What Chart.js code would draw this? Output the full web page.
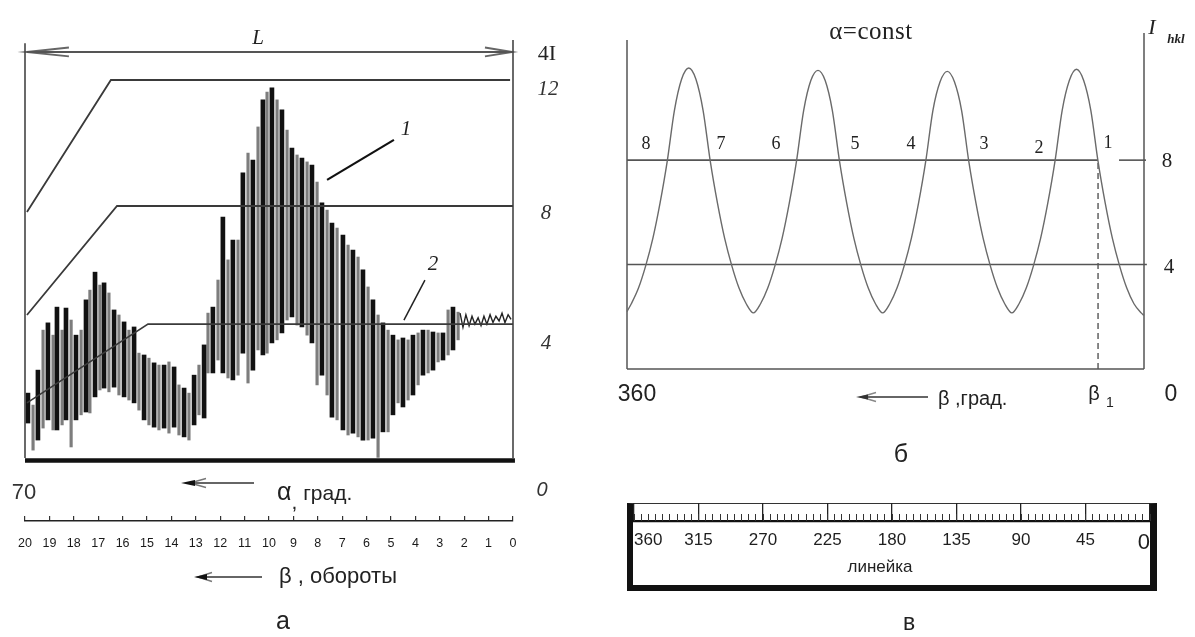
<!DOCTYPE html>
<html><head><meta charset="utf-8">
<script src="https://cdn.jsdelivr.net/npm/chart.js@4.4.1/dist/chart.umd.min.js"></script>
<style>
html,body{margin:0;padding:0;background:#fff;width:1195px;height:637px;overflow:hidden;position:relative;}
canvas{position:absolute;}
.t{position:absolute;white-space:nowrap;transform:translate(-50%,-50%);color:#222;line-height:1;}
.l{position:absolute;white-space:nowrap;transform:translate(0,-50%);color:#222;line-height:1;}
.serif{font-family:'Liberation Serif','DejaVu Serif',serif;}
.sans{font-family:'Liberation Sans',Arial,sans-serif;}
.it{font-style:italic;}
#ruler{position:absolute;left:627px;top:503px;width:530px;height:88px;box-sizing:border-box;border-top:1.5px solid #333;border-left:6px solid #111;border-right:7px solid #111;border-bottom:6px solid #111;}
svg{position:absolute;left:0;top:0;}
</style></head><body>
<div id="ruler"></div>
<canvas id="ca" width="600" height="470" style="left:0;top:0;"></canvas>
<canvas id="cb" width="600" height="60" style="left:0;top:500px;"></canvas>
<canvas id="cc" width="595" height="400" style="left:600px;top:0;"></canvas>
<canvas id="cd" width="595" height="90" style="left:600px;top:490px;"></canvas>
<canvas id="ce" width="595" height="30" style="left:600px;top:500px;"></canvas>

<svg width="1195" height="637">
  <g stroke="#333" fill="none">
    <line x1="254" y1="483" x2="186" y2="483" stroke-width="1.5"/>
    <polyline points="206,478.5 190,483 206,487.5" stroke="#777" stroke-width="1.5"/>
    <polygon points="181,483 195,480 195,486" fill="#111" stroke="none"/>
    <line x1="262" y1="577" x2="199" y2="577" stroke-width="1.5"/>
    <polyline points="212,572.5 198,577 212,581.5" stroke="#777" stroke-width="1.5"/>
    <polygon points="194,577 207,574 207,580" fill="#111" stroke="none"/>
    <line x1="928" y1="397" x2="861" y2="397" stroke-width="1.5"/>
    <polyline points="876,392.5 861,397 876,401.5" stroke="#888" stroke-width="1.5"/>
    <polygon points="856,397 868,394.5 868,399.5" fill="#333" stroke="none"/>
  </g>
</svg>

<!-- panel a texts -->
<div class="t serif it" style="left:258px;top:37px;font-size:21px;">L</div>
<div class="t serif" style="left:547px;top:53px;font-size:22px;">4I</div>
<div class="t serif it" style="left:548px;top:88px;font-size:21px;color:#333;">12</div>
<div class="t serif it" style="left:546px;top:212px;font-size:21px;color:#333;">8</div>
<div class="t serif it" style="left:546px;top:342px;font-size:21px;color:#333;">4</div>
<div class="t sans it" style="left:542px;top:489px;font-size:20px;color:#333;">0</div>
<div class="t serif it" style="left:406px;top:128px;font-size:21px;">1</div>
<div class="t serif it" style="left:433px;top:263px;font-size:21px;">2</div>
<div class="t sans" style="left:24px;top:492px;font-size:22px;color:#333;">70</div>
<div class="l sans" style="left:277px;top:491px;font-size:21px;color:#222;"><span style="font-size:25px;">α</span><span style="position:relative;top:9px;">,</span> град.</div>
<div class="l sans" style="left:279px;top:576px;font-size:22px;color:#222;">β , обороты</div>
<div class="t sans" style="left:283px;top:620px;font-size:25px;">а</div>

<!-- panel b texts -->
<div class="t serif" style="left:871px;top:30px;font-size:25px;letter-spacing:0.5px;">α=const</div>
<div class="t serif it" style="left:1152px;top:27px;font-size:22px;">I</div>
<div class="t serif it" style="left:1176px;top:38px;font-size:13px;font-weight:bold;">hkl</div>
<div class="t serif" style="left:646px;top:143px;font-size:18px;">8</div>
<div class="t serif" style="left:721px;top:143px;font-size:18px;">7</div>
<div class="t serif" style="left:776px;top:143px;font-size:18px;">6</div>
<div class="t serif" style="left:855px;top:143px;font-size:18px;">5</div>
<div class="t serif" style="left:911px;top:143px;font-size:18px;">4</div>
<div class="t serif" style="left:984px;top:143px;font-size:18px;">3</div>
<div class="t serif" style="left:1039px;top:147px;font-size:18px;">2</div>
<div class="t serif" style="left:1108px;top:142px;font-size:18px;">1</div>
<div class="t serif" style="left:1167px;top:160px;font-size:21px;">8</div>
<div class="t serif" style="left:1169px;top:266px;font-size:21px;">4</div>
<div class="t sans" style="left:637px;top:393px;font-size:23px;">360</div>
<div class="l sans" style="left:938px;top:398px;font-size:20px;">β ,град.</div>
<div class="t sans" style="left:1094px;top:393px;font-size:20px;">β</div>
<div class="t sans" style="left:1110px;top:402px;font-size:14px;">1</div>
<div class="t sans" style="left:1171px;top:393px;font-size:23px;">0</div>
<div class="t sans" style="left:901px;top:453px;font-size:25px;">б</div>
<div class="t sans" style="left:880px;top:566px;font-size:17px;">линейка</div>
<div class="t sans" style="left:909px;top:622px;font-size:23px;">в</div>

<script>
// ---------- panel a data (beta in turns, intensity in relative units) ----------
const betaBlack = [19.88,19.47,19.06,18.69,18.32,17.91,17.50,17.13,16.76,16.35,
15.94,15.53,15.12,14.71,14.30,13.89,13.48,13.07,12.66,12.30,
11.89,11.48,11.07,10.66,10.25,9.88,9.47,9.06,8.65,8.24,
7.83,7.42,6.97,6.56,6.15,5.74,5.33,4.92,4.51,4.10,
3.69,3.28,2.87,2.46];
const blackHigh = [2.06,2.79,4.29,4.79,4.76,3.90,5.02,5.90,5.56,4.70,
4.32,4.16,3.27,3.02,2.95,2.89,2.22,2.63,3.59,4.79,
7.65,6.92,9.05,9.46,11.37,11.75,11.05,9.84,9.52,9.30,
8.10,7.46,7.08,6.60,5.97,5.02,4.29,3.90,3.81,3.90,
4.06,4.00,3.97,4.79];
const blackLow = [1.11,0.57,1.21,0.89,1.21,1.21,1.46,1.94,2.22,2.25,
1.94,1.75,1.21,0.98,0.95,0.98,0.67,1.05,1.27,2.70,
2.70,2.48,3.33,2.79,3.27,3.65,3.97,4.48,4.16,3.65,
2.63,1.30,0.89,0.79,0.57,0.63,0.83,1.37,1.62,2.00,
2.63,2.79,3.11,3.43];
const betaGray = [19.67,19.26,18.85,18.48,18.11,17.70,17.34,16.93,16.56,16.15,
15.74,15.33,14.92,14.51,14.10,13.69,13.28,12.87,12.50,12.09,
11.68,11.27,10.86,10.45,10.08,9.67,9.26,8.85,8.44,8.03,
7.62,7.21,6.76,6.35,5.94,5.53,5.12,4.71,4.30,3.89,
3.48,3.07,2.66,2.25];
const grayHigh = [1.68,4.06,3.90,4.06,4.38,4.06,5.33,5.49,5.24,4.54,
4.06,3.33,3.17,2.95,3.05,2.32,2.06,2.95,4.60,5.65,
6.29,6.92,9.68,10.51,11.62,11.37,10.41,9.62,9.40,8.76,
7.87,7.30,6.76,6.38,5.43,4.54,4.06,3.75,3.75,3.97,
4.06,3.97,4.70,4.63];
const grayLow = [0.25,0.95,0.89,1.05,0.35,1.37,1.43,2.16,2.10,2.00,
1.84,1.52,1.05,0.89,0.79,0.73,0.57,1.37,2.70,3.11,
2.54,2.63,2.38,3.43,3.33,3.75,4.38,4.22,3.90,2.32,
2.00,1.21,0.73,0.67,0.57,0.02,0.83,1.75,1.84,2.32,
2.70,3.05,3.27,3.75];
const tailBeta = [2.17,2.05,1.93,1.80,1.68,1.56,1.43,1.31,1.19,1.07,0.94,0.82,0.70,0.57,0.45,0.33,0.20,0.08];
const tailI = [4.6,4.15,4.55,4.2,4.5,4.25,4.45,4.2,4.5,4.25,4.55,4.3,4.5,4.35,4.6,4.3,4.55,4.4];
const level12Beta = [19.92,16.48,0.12], level12I = [7.81,12.0,12.0];
const level8Beta = [19.92,16.23,0.0], level8I = [4.54,8.0,8.0];
const level4Beta = [19.92,14.96,0.0], level4I = [1.75,4.25,4.25];
const turnTicks = {min:0, max:20, step:1};

// ---------- panel b data (beta in degrees) ----------
const betaDeg = [0,2,7,12,17,22,27,32,37,42,47,52,57,62,67,72,77,82,87,
92,97,102,107,112,117,122,127,132,137,142,147,152,157,162,167,172,177,
182,187,192,197,202,207,212,217,222,227,232,237,242,247,252,257,262,267,
272,277,282,287,292,297,302,307,312,317,322,327,332,337,342,347,352,357,360];
const intensity = [2.05,
2.15,2.5,3.1,3.95,5.0,6.35,7.95,9.9,11.05,11.48,11.05,9.9,7.95,6.35,5.0,3.95,3.1,2.5,
2.15,2.5,3.1,3.95,5.0,6.35,7.95,9.9,11.0,11.4,11.0,9.9,7.95,6.35,5.0,3.95,3.1,2.5,
2.15,2.5,3.1,3.95,5.0,6.35,7.95,9.9,11.05,11.44,11.05,9.9,7.95,6.35,5.0,3.95,3.1,2.5,
2.15,2.5,3.1,3.95,5.0,6.35,7.95,9.9,11.1,11.53,11.1,9.9,7.95,6.35,5.0,3.95,3.1,2.5,
2.2];
const beta1 = 32;
const levelB8 = 8, levelB4 = 4;
const rulerMajor = 45, rulerMinor = 5, rulerMax = 360;

// ---------- helpers ----------
const pts = (xs, ys) => xs.map((x, i) => ({x, y: ys[i]}));
const bars = (xs, lo, hi) => xs.map((x, i) => ({x, y: [lo[i], hi[i]]}));
const ln = (data, color, w, extra) => Object.assign({type:'line', data, borderColor:color, borderWidth:w, pointRadius:0, fill:false, tension:0, clip:false, order:0}, extra||{});
const base = (pad) => ({responsive:false, animation:false, events:[], devicePixelRatio:1,
  layout:{padding:pad}, plugins:{legend:{display:false}, tooltip:{enabled:false}}});
Chart.defaults.font.family = "'Liberation Sans', Arial, sans-serif";

// ---------- panel a ----------
new Chart(document.getElementById('ca'), {
  type:'bar',
  data:{datasets:[
    ln(pts(level12Beta, level12I), '#3a3a3a', 1.8),
    ln(pts(level8Beta, level8I), '#3a3a3a', 1.8),
    ln(pts(level4Beta, level4I), '#3a3a3a', 1.6),
    ln([{x:20,y:0},{x:20,y:13.17}], '#444', 1.6),
    ln([{x:0,y:0},{x:0,y:13.27}], '#444', 1.6),
    ln([{x:20,y:-0.08},{x:-0.08,y:-0.08}], '#111', 4.5),
    ln([{x:19.92,y:12.89},{x:0.04,y:12.89}], '#555', 2),
    ln([{x:18.2,y:13.03},{x:19.92,y:12.89},{x:18.2,y:12.75}], '#666', 2),
    ln([{x:1.15,y:13.03},{x:0.04,y:12.89},{x:1.15,y:12.75}], '#666', 2),
    ln([{x:4.88,y:10.1},{x:7.62,y:8.83}], '#111', 2.2),
    ln([{x:3.61,y:5.65},{x:4.47,y:4.38}], '#222', 1.5),
    ln(pts(tailBeta, tailI), '#222', 1.4, {order:1}),
    {data:bars(betaBlack, blackLow, blackHigh), backgroundColor:'#111', barThickness:4, grouped:false, order:2},
    {data:bars(betaGray, grayLow, grayHigh), backgroundColor:'#7d7d7d', barThickness:2.5, grouped:false, order:3}
  ]},
  options:Object.assign(base({left:25,right:87,top:40,bottom:12}), {
    scales:{
      x:{type:'linear', min:turnTicks.min, max:turnTicks.max, reverse:true, offset:false, display:false},
      y:{type:'linear', min:0, max:13.27, display:false}
    }})
});

// beta turns axis under panel a
new Chart(document.getElementById('cb'), {
  type:'line', data:{datasets:[]},
  options:Object.assign(base({left:25,right:87,top:16,bottom:0}), {
    scales:{
      x:{type:'linear', min:turnTicks.min, max:turnTicks.max, reverse:true, offset:false,
        grid:{display:true, drawOnChartArea:true, drawTicks:false, color:'#333', lineWidth:1.2},
        border:{display:true, color:'#222', width:1.5},
        ticks:{stepSize:turnTicks.step, autoSkip:false, maxRotation:0, padding:15, color:'#1a1a1a', font:{size:12.5}},
        afterFit:(s)=>{s.height=39;}},
      y:{display:false, min:0, max:1}
    }})
});

// ---------- panel b ----------
new Chart(document.getElementById('cc'), {
  type:'line',
  data:{datasets:[
    ln(pts(betaDeg, intensity), '#6a6a6a', 1.4, {cubicInterpolationMode:'monotone'}),
    ln([{x:360,y:levelB8},{x:beta1,y:levelB8}], '#555', 1.6),
    ln([{x:17.4,y:levelB8},{x:-1.4,y:levelB8}], '#555', 1.6),
    ln([{x:360,y:levelB4},{x:-2,y:levelB4}], '#555', 1.6),
    ln([{x:beta1,y:0},{x:beta1,y:levelB8}], '#555', 1.4, {borderDash:[6,4]}),
    ln([{x:360,y:0},{x:360,y:12.6}], '#555', 1.5),
    ln([{x:0,y:0},{x:0,y:12.87}], '#555', 1.5),
    ln([{x:360,y:0},{x:0,y:0}], '#555', 1.6)
  ]},
  options:Object.assign(base({left:27,right:51,top:33,bottom:31}), {
    scales:{
      x:{type:'linear', min:0, max:360, reverse:true, display:false},
      y:{type:'linear', min:0, max:12.87, display:false}
    }})
});

// ---------- ruler (в): axis runs 360 (left) .. 0 (right) ----------
new Chart(document.getElementById('cd'), {
  type:'line', data:{datasets:[]},
  options:Object.assign(base({left:34,right:45,top:13,bottom:0}), {
    scales:{
      x:{type:'linear', min:-rulerMax, max:0, offset:false,
        grid:{display:true, drawOnChartArea:true, drawTicks:false, color:'#222', lineWidth:1.3},
        border:{display:true, color:'#111', width:2.2},
        ticks:{stepSize:rulerMajor, autoSkip:false, maxRotation:0, padding:9, align:'inner', color:'#1e1e1e',
          callback:(v)=>String(Math.abs(v)),
          font:(c)=>({size: (c.tick && c.tick.value===0) ? 22 : 17})},
        afterFit:(s)=>{s.height=59;}},
      y:{display:false, min:0, max:1}
    }})
});
new Chart(document.getElementById('ce'), {
  type:'line', data:{datasets:[]},
  options:Object.assign(base({left:34,right:45,top:14,bottom:9}), {
    scales:{
      x:{type:'linear', min:-rulerMax, max:0, offset:false,
        grid:{display:true, drawOnChartArea:true, drawTicks:false, color:'#333', lineWidth:1},
        border:{display:false},
        ticks:{stepSize:rulerMinor, display:false, autoSkip:false},
        afterFit:(s)=>{s.height=0;}},
      y:{display:false, min:0, max:1}
    }})
});
</script>
</body></html>
